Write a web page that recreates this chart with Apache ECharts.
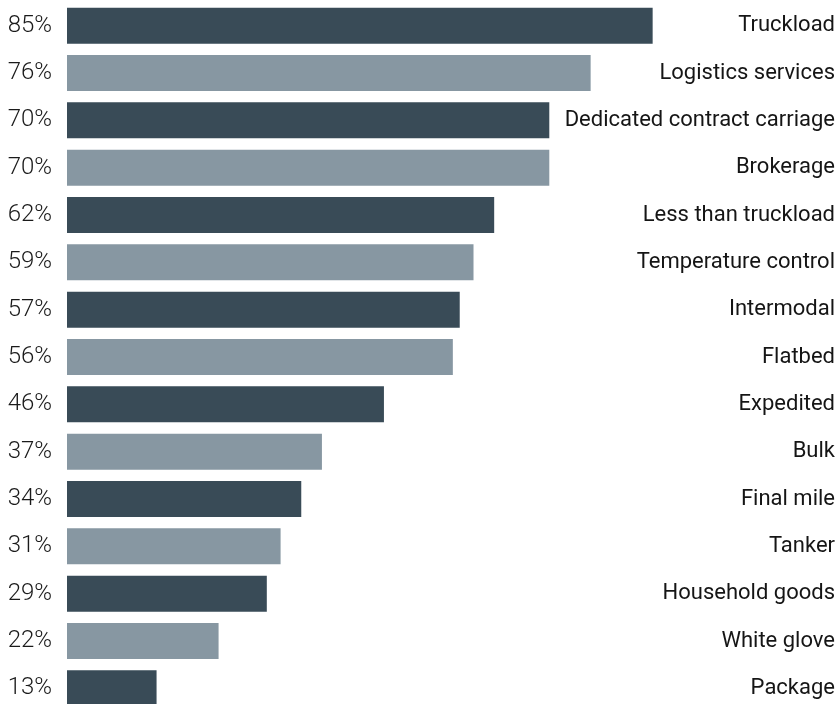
<!DOCTYPE html>
<html><head><meta charset="utf-8">
<script src="https://cdn.jsdelivr.net/npm/echarts@6/dist/echarts.min.js"></script>
<style>html,body{margin:0;padding:0;background:#fff}#c{width:838px;height:704px}</style>
</head><body><div id="c"></div>
<script>
const categories = ["Truckload","Logistics services","Dedicated contract carriage","Brokerage","Less than truckload","Temperature control","Intermodal","Flatbed","Expedited","Bulk","Final mile","Tanker","Household goods","White glove","Package"];
const values = [85,76,70,70,62,59,57,56,46,37,34,31,29,22,13];
const darkColor = "#394B57", lightColor = "#8797A2";
const chart = echarts.init(document.getElementById('c'));
chart.setOption({
  animation:false,
  grid:{left:67, top:2, width:689, height:710, outerBoundsMode:'none', containLabel:false},
  xAxis:{type:'value', min:0, max:100, show:false},
  yAxis:[
    {type:'category', data:categories, inverse:true, position:'left',
     axisLine:{show:false}, axisTick:{show:false},
     axisLabel:{margin:15, fontFamily:'Roboto', fontWeight:300, fontSize:24, color:'#1a1a1a', padding:[3,0,0,0],
       formatter:(v,i)=>values[i]+'%'}},
    {type:'category', data:categories, inverse:true, position:'right',
     axisLine:{show:false}, axisTick:{show:false},
     axisLabel:{margin:79, align:'right', fontFamily:'Roboto', fontSize:22, color:'#151515', padding:[2,0,0,0]}}
  ],
  series:[{type:'bar', data:values.map((v,i)=>({value:v, itemStyle:{color:i%2?lightColor:darkColor}})), barWidth:36, silent:true}]
});
</script></body></html>
